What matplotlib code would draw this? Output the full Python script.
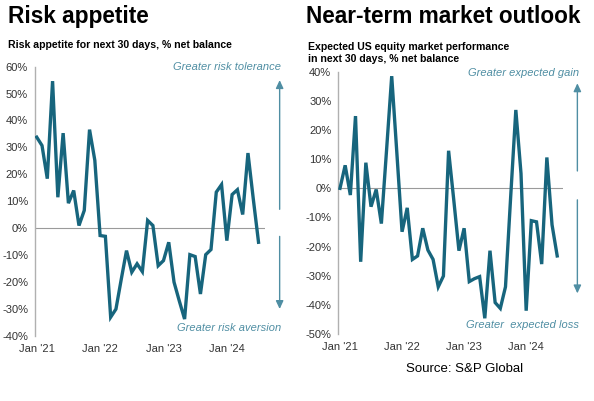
#!/usr/bin/env python3

# Risk appetite / near-term market outlook, two panels side by side

import numpy as np
from matplotlib import pyplot as plt
import matplotlib

params = {
    'font.family': 'Liberation Sans',
    'font.size': 8,
    'xtick.labelsize': 8,
    'ytick.labelsize': 8,
    'figure.dpi': 100,
}
matplotlib.rcParams.update(params)

# monthly, Jan 2021 .. Jul 2024
risk_appetite = [33.8, 30.7, 18.4, 54.6, 11.5, 35.3, 9.3, 14.0, 1.0, 6.6,
                 36.6, 25.2, -2.7, -3.0, -33.0, -30.0, -19.0, -8.3, -16.3, -13.2,
                 -16.1, 2.9, 1.0, -13.9, -12.0, -5.2, -20.0, -27.0, -33.7, -9.8,
                 -10.5, -24.4, -9.8, -7.9, 13.4, 16.2, -4.6, 12.5, 14.3, 5.1,
                 27.9, 11.0, -5.2]
market_outlook = [0.0, 7.9, -2.3, 24.8, -25.2, 8.8, -6.3, -0.4, -12.1, 13.0,
                  38.5, 12.0, -14.9, -6.7, -24.4, -23.2, -13.7, -21.2, -24.4, -33.8,
                  -30.1, 12.9, -4.0, -21.4, -13.7, -32.0, -31.0, -30.3, -44.6, -21.4,
                  -39.2, -41.2, -33.8, -3.0, 26.9, 5.1, -42.0, -11.1, -11.5, -26.0,
                  10.6, -12.5, -23.2]

tick_pos = [0, 12, 24, 36]
tick_labels = ["Jan '21", "Jan '22", "Jan '23", "Jan '24"]

line_c = '#17657d'
arrow_c = '#4f8ea3'
grey = '#9a9a9a'

fig = plt.figure(figsize=(5.94, 4.01))
ax1 = fig.add_axes([0.0589, 0.162, 0.387, 0.672])
ax2 = fig.add_axes([0.5695, 0.167, 0.379, 0.654])


def style(ax, data, ylo, yhi, step):
    x = np.arange(len(data))
    ax.plot(x, data, c=line_c, lw=2.4, solid_joinstyle='miter', zorder=5)
    ax.axhline(0, c=grey, lw=0.8, zorder=1)
    ax.set_xlim(-0.33, 43.2)
    ax.set_ylim(ylo, yhi)
    ax.set_yticks(np.arange(ylo, yhi + 1, step))
    ax.set_yticklabels(["%d%%" % v for v in np.arange(ylo, yhi + 1, step)])
    ax.set_xticks(tick_pos)
    ax.set_xticklabels(tick_labels)
    for s in ['top', 'right', 'bottom']:
        ax.spines[s].set_visible(False)
    ax.spines['left'].set_color('#b0b0b0')
    ax.spines['left'].set_linewidth(1.0)
    ax.tick_params(axis='both', length=0, colors='#333333', pad=5)
    ax.tick_params(axis='x', pad=6)


style(ax1, risk_appetite, -40, 60, 10)
style(ax2, market_outlook, -50, 40, 10)


def arrows(ax, xa, up, down, top_txt, bot_txt, ytop, ybot):
    akw = dict(arrowstyle='-|>,head_width=0.28,head_length=0.6', color=arrow_c, lw=1.0)
    ax.annotate('', xy=(xa, up[1]), xytext=(xa, up[0]), arrowprops=akw,
                annotation_clip=False)
    ax.annotate('', xy=(xa, down[1]), xytext=(xa, down[0]), arrowprops=akw,
                annotation_clip=False)
    ax.text(xa + 0.3, ytop, top_txt, style='italic', color=arrow_c, fontsize=8,
            ha='right', va='center', clip_on=False)
    ax.text(xa + 0.3, ybot, bot_txt, style='italic', color=arrow_c, fontsize=8,
            ha='right', va='center', clip_on=False)


arrows(ax1, 46.0, (6, 56), (-2, -31), "Greater risk tolerance",
       "Greater risk aversion", 60, -37)
arrows(ax2, 45.9, (5, 37), (-3, -37), "Greater expected gain",
       "Greater  expected loss", 39.5, -47)

fig.text(0.013, 0.96, "Risk appetite", fontsize=16.3, fontweight='bold', va='center')
fig.text(0.515, 0.96, "Near-term market outlook", fontsize=16.3, fontweight='bold',
         va='center')
fig.text(0.013, 0.888, "Risk appetite for next 30 days, % net balance", fontsize=7.6,
         fontweight='bold', va='center')
fig.text(0.518, 0.883, "Expected US equity market performance", fontsize=7.6,
         fontweight='bold', va='center')
fig.text(0.518, 0.853, "in next 30 days, % net balance", fontsize=7.6,
         fontweight='bold', va='center')
fig.text(0.684, 0.08, "Source: S&P Global", fontsize=9.5, va='center')

#  plt.show()
plt.savefig("out.png")
